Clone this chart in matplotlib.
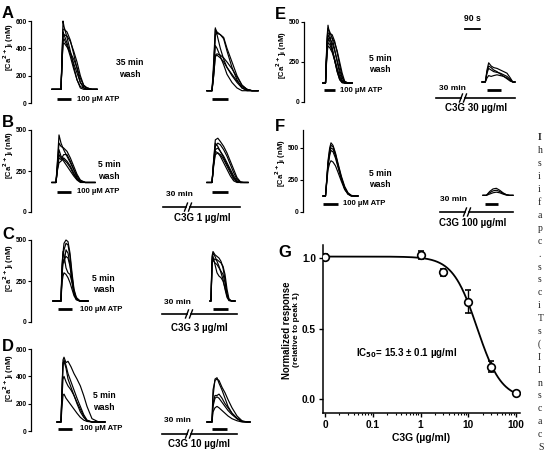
import numpy as np
import matplotlib
matplotlib.use("Agg")
import matplotlib.pyplot as plt

plt.rcParams['font.family'] = ['Liberation Sans', 'DejaVu Sans']
plt.rcParams['font.weight'] = 'bold'
plt.rcParams['mathtext.default'] = 'bf'

# ---------------- data: Ca2+ traces (time in s, [Ca2+]i in nM) ----------------
a_ctrl_t = [0, 54, 60, 66, 72, 90, 110, 130, 150, 170, 190, 210, 240, 270]
a_ctrl = [
    [100, 100, 300, 600, 560, 480, 380, 270, 170, 110, 100, 100, 100, 100],
    [100, 100, 350, 540, 540, 520, 460, 360, 250, 150, 110, 100, 100, 100],
    [100, 100, 300, 480, 500, 490, 450, 380, 300, 200, 130, 110, 100, 100],
    [100, 100, 280, 450, 470, 420, 340, 250, 170, 120, 110, 100, 100, 100],
    [100, 100, 320, 520, 500, 440, 360, 290, 220, 150, 120, 110, 100, 100],
    [100, 100, 300, 430, 440, 410, 370, 320, 260, 180, 130, 110, 100, 100],
]
a_c3g_t = [0, 30, 40, 50, 60, 80, 100, 120, 150, 180, 210, 240, 270, 306]
a_c3g = [
    [90, 90, 250, 540, 520, 500, 480, 400, 300, 200, 130, 100, 90, 90],
    [90, 90, 250, 500, 510, 500, 470, 380, 260, 170, 110, 90, 90, 90],
    [90, 90, 200, 350, 360, 350, 330, 300, 250, 190, 130, 100, 90, 90],
    [90, 90, 220, 420, 400, 340, 280, 210, 150, 110, 90, 90, 90, 90],
    [90, 90, 300, 550, 500, 400, 320, 260, 200, 150, 110, 95, 90, 90],
    [90, 90, 200, 340, 350, 330, 300, 260, 210, 160, 120, 100, 90, 90],
]

b_ctrl_t = [0, 24, 32, 42, 54, 70, 90, 110, 130, 150, 170, 200, 230, 258]
b_ctrl = [
    [180, 180, 300, 470, 420, 380, 340, 300, 260, 220, 190, 180, 180, 180],
    [180, 180, 290, 420, 400, 390, 370, 330, 280, 230, 195, 180, 180, 180],
    [180, 180, 260, 330, 320, 350, 350, 310, 260, 210, 185, 180, 180, 180],
    [180, 180, 250, 300, 310, 330, 310, 280, 240, 200, 185, 180, 180, 180],
    [180, 180, 270, 380, 340, 320, 300, 270, 230, 200, 185, 180, 180, 180],
    [180, 180, 260, 350, 330, 310, 280, 250, 220, 195, 180, 180, 180, 180],
]
b_c3g_t = [0, 30, 40, 50, 65, 80, 100, 120, 140, 160, 180, 200, 220, 246]
b_c3g = [
    [180, 180, 320, 440, 450, 430, 400, 360, 310, 260, 210, 185, 180, 180],
    [180, 180, 300, 400, 420, 410, 380, 340, 290, 240, 200, 180, 180, 180],
    [180, 180, 300, 380, 390, 370, 340, 300, 260, 220, 190, 180, 180, 180],
    [180, 180, 280, 350, 360, 350, 320, 280, 240, 200, 185, 180, 180, 180],
    [180, 180, 310, 420, 400, 370, 330, 290, 250, 210, 185, 180, 180, 180],
    [180, 180, 290, 370, 360, 340, 300, 260, 220, 190, 180, 180, 180, 180],
]

c_ctrl_t = [0, 48, 54, 60, 66, 78, 90, 102, 114, 126, 140, 160, 185, 210]
c_ctrl = [
    [128, 128, 350, 420, 480, 500, 490, 420, 300, 200, 150, 130, 128, 128],
    [128, 128, 300, 400, 440, 480, 470, 400, 280, 190, 145, 130, 128, 128],
    [128, 128, 280, 360, 380, 400, 390, 340, 250, 180, 140, 128, 128, 128],
    [128, 128, 240, 280, 300, 290, 270, 240, 200, 160, 135, 128, 128, 128],
    [128, 128, 320, 430, 410, 330, 300, 290, 240, 170, 140, 128, 128, 128],
    [128, 128, 300, 380, 360, 440, 420, 350, 260, 180, 140, 128, 128, 128],
]
c_c3g_t = [0, 6, 12, 18, 30, 42, 54, 66, 78, 90, 102, 114, 130, 150]
c_c3g = [
    [128, 128, 400, 430, 410, 400, 390, 370, 330, 260, 170, 135, 128, 128],
    [128, 128, 380, 420, 400, 370, 340, 300, 260, 200, 150, 130, 128, 128],
    [128, 128, 360, 390, 380, 380, 370, 360, 340, 290, 200, 140, 128, 128],
    [128, 128, 340, 400, 350, 300, 280, 270, 250, 210, 160, 135, 128, 128],
    [128, 128, 350, 380, 360, 350, 330, 310, 290, 240, 170, 135, 128, 128],
]

d_ctrl_t = [0, 24, 30, 36, 42, 54, 66, 84, 102, 120, 140, 160, 180, 210, 250, 288]
d_ctrl = [
    [66, 66, 300, 520, 540, 500, 510, 470, 420, 380, 330, 260, 180, 90, 66, 66],
    [66, 66, 300, 480, 520, 480, 420, 360, 300, 240, 180, 120, 80, 66, 66, 66],
    [66, 66, 250, 380, 400, 360, 330, 300, 260, 210, 160, 110, 75, 66, 66, 66],
    [66, 66, 180, 260, 270, 240, 220, 190, 160, 130, 100, 80, 70, 66, 66, 66],
    [66, 66, 280, 500, 510, 460, 380, 320, 260, 200, 140, 100, 75, 66, 66, 66],
]
d_c3g_t = [0, 30, 36, 48, 60, 72, 90, 108, 126, 150, 180, 210, 240, 258]
d_c3g = [
    [66, 66, 300, 370, 380, 370, 320, 280, 230, 170, 110, 75, 66, 66],
    [66, 66, 200, 260, 260, 270, 240, 200, 170, 130, 95, 70, 66, 66],
    [66, 66, 180, 240, 250, 240, 210, 180, 150, 120, 90, 70, 66, 66],
    [66, 66, 140, 170, 180, 170, 150, 130, 110, 90, 75, 66, 66, 66],
    [66, 66, 250, 380, 390, 350, 300, 240, 180, 130, 90, 70, 66, 66],
]

e_ctrl_t = [0, 15, 24, 30, 40, 55, 70, 85, 100, 115, 130, 150, 174]
e_ctrl = [
    [119, 119, 400, 480, 420, 340, 260, 190, 140, 120, 119, 119, 119],
    [119, 119, 380, 460, 440, 400, 330, 250, 180, 135, 120, 119, 119],
    [119, 119, 360, 430, 430, 420, 380, 310, 230, 160, 125, 119, 119],
    [119, 119, 340, 400, 380, 330, 260, 190, 140, 122, 119, 119, 119],
    [119, 119, 320, 370, 360, 320, 270, 210, 160, 130, 120, 119, 119],
    [119, 119, 300, 350, 340, 310, 260, 200, 150, 125, 119, 119, 119],
    [119, 119, 350, 420, 400, 370, 320, 260, 200, 150, 125, 119, 119],
    [119, 119, 330, 380, 400, 400, 370, 320, 250, 180, 130, 119, 119],
]
e_c3g_t = [0, 20, 30, 40, 55, 70, 90, 110, 130, 150, 170, 185, 198]
e_c3g = [
    [125, 125, 200, 245, 225, 215, 210, 200, 190, 180, 150, 125, 125],
    [125, 125, 180, 210, 200, 190, 185, 180, 170, 160, 140, 125, 125],
    [125, 125, 150, 165, 160, 165, 170, 165, 160, 150, 135, 125, 125],
    [125, 125, 190, 225, 215, 200, 190, 175, 160, 145, 130, 125, 125],
]

f_ctrl_t = [0, 15, 22, 30, 40, 48, 60, 75, 90, 110, 130, 150, 170, 190, 210]
f_ctrl = [
    [125, 125, 250, 400, 500, 540, 520, 460, 380, 280, 200, 150, 130, 125, 125],
    [125, 125, 240, 380, 480, 520, 510, 450, 370, 270, 190, 145, 128, 125, 125],
    [125, 125, 230, 360, 440, 480, 470, 420, 350, 260, 185, 140, 125, 125, 125],
    [125, 125, 220, 330, 380, 400, 390, 360, 310, 240, 175, 140, 125, 125, 125],
    [125, 125, 240, 370, 460, 500, 490, 440, 360, 260, 180, 140, 125, 125, 125],
]
f_c3g_t = [0, 20, 40, 60, 80, 100, 120, 140, 160, 180]
f_c3g = [
    [130, 130, 160, 180, 185, 170, 150, 135, 130, 130],
    [130, 130, 150, 165, 170, 160, 145, 135, 130, 130],
    [130, 130, 140, 150, 155, 150, 140, 132, 130, 130],
]

# concentration-response (G)
g_conc = [0, 1, 3, 10, 30, 100]
g_resp = [1.01, 1.02, 0.90, 0.69, 0.23, 0.04]
g_err = [0.015, 0.03, 0.025, 0.08, 0.04, 0.01]
g_top, g_bottom, g_ic50, g_hill = 1.01, 0.0, 15.3, 1.7
g_ticks = [0.01, 0.1, 1, 10, 100]
g_ticklabels = ['0', '0.1', '1', '10', '100']

caption_chars = ['I', 'h', 's', 'i', 'i', 'f', 'a', 'p', 'c', '.', 's', 's', 'c',
                 'i', 'T', 's', '(', 'I', 'I', 'n', 's', 'c', 'a', 'c', 'S']

# ---------------- layout ----------------
W, H = 544, 455
fig = plt.figure(figsize=(5.44, 4.55), dpi=100)


def px_axes(x0, ytop, x1, ybot):
    return fig.add_axes([x0 / W, 1 - ybot / H, (x1 - x0) / W, (ybot - ytop) / H])


rows = [
    dict(letter='A', rect=(31, 21, 262, 103), ymax=600, yticks=[0, 200, 400, 600],
         ctrl=(a_ctrl_t, a_ctrl, 126), c3g=(a_c3g_t, a_c3g, 1056),
         atp=[(156, 240), (1086, 1182)], atp_v=29, atp_lab=276,
         wash=(594, 252, '35 min\nwash'), line=None, lab_xy=(2, 6), ylab_y=47),
    dict(letter='B', rect=(31, 130, 262, 212), ymax=500, yticks=[0, 250, 500],
         ctrl=(b_ctrl_t, b_ctrl, 126), c3g=(b_c3g_t, b_c3g, 1056),
         atp=[(156, 240), (1086, 1182)], atp_v=125, atp_lab=276,
         wash=(468, 253, '5 min\nwash'),
         line=dict(v=30, t=(792, 1254), brk=942, min_xy=(888, 104),
                   conc=(1030, -37, 'C3G 1 µg/ml')), lab_xy=(2, 115), ylab_y=155),
    dict(letter='C', rect=(31, 240, 262, 322), ymax=500, yticks=[0, 250, 500],
         ctrl=(c_ctrl_t, c_ctrl, 132), c3g=(c_c3g_t, c_c3g, 1074),
         atp=[(162, 246), (1092, 1182)], atp_v=79, atp_lab=294,
         wash=(435, 232, '5 min\nwash'),
         line=dict(v=49, t=(786, 1236), brk=948, min_xy=(879, 116),
                   conc=(1008, -37, 'C3G 3 µg/ml')), lab_xy=(2, 227), ylab_y=268),
    dict(letter='D', rect=(31, 349, 262, 431), ymax=600, yticks=[0, 200, 400, 600],
         ctrl=(d_ctrl_t, d_ctrl, 156), c3g=(d_c3g_t, d_c3g, 1056),
         atp=[(162, 246), (1086, 1176)], atp_v=15, atp_lab=294,
         wash=(438, 216, '5 min\nwash'),
         line=dict(v=-22, t=(786, 1236), brk=948, min_xy=(876, 80),
                   conc=(1008, -93, 'C3G 10 µg/ml')), lab_xy=(2, 339), ylab_y=378),
    dict(letter='E', rect=(304, 22, 520, 102), ymax=500, yticks=[0, 250, 500],
         ctrl=(e_ctrl_t, e_ctrl, 114), c3g=(e_c3g_t, e_c3g, 1068),
         atp=[(120, 186), (1098, 1182)], atp_v=75, atp_lab=216,
         wash=(456, 237, '5 min\nwash'),
         line=dict(v=25, t=(792, 1266), brk=954, min_xy=(888, 87),
                   conc=(1032, -37, 'C3G 30 µg/ml')), lab_xy=(275, 7), ylab_y=55,
         scale=dict(t=(966, 1056), v=456, text_v=519)),
    dict(letter='F', rect=(303, 130, 520, 212), ymax=640, yticks=[0, 250, 500],
         ctrl=(f_ctrl_t, f_ctrl, 120), c3g=(f_c3g_t, f_c3g, 1080),
         atp=[(120, 210), (1092, 1170)], atp_v=66, atp_lab=240,
         wash=(462, 258, '5 min\nwash'),
         line=dict(v=0, t=(822, 1260), brk=984, min_xy=(900, 101),
                   conc=(1020, -86, 'C3G 100 µg/ml')), lab_xy=(275, 119), ylab_y=163),
]

SEC_PER_PX = 6.0

for r in rows:
    x0, ytop, x1, ybot = r['rect']
    ax = px_axes(x0, ytop, x1, ybot)
    vpp = r['ymax'] / (ybot - ytop)  # nM per pixel
    ax.set_xlim(0, (x1 - x0) * SEC_PER_PX)
    ax.set_ylim(0, r['ymax'])
    for s in ['top', 'right', 'bottom']:
        ax.spines[s].set_visible(False)
    ax.spines['left'].set_linewidth(0.9)
    ax.set_xticks([])
    ax.set_yticks(r['yticks'])
    ax.tick_params(axis='y', direction='out', length=2, width=0.8, pad=1, labelsize=4.8)
    fig.text((x0 - 22) / W, 1 - r['ylab_y'] / H, r'[Ca$^{2+}$]$_{i}$ (nM)',
             rotation=90, fontsize=5.5, fontweight='bold', ha='center', va='center')

    for tt, traces, t0 in (r['ctrl'], r['c3g']):
        for tr in traces:
            ax.plot(np.array(tt) + t0, tr, color='black', lw=0.85, clip_on=False)

    for (ta, tb) in r['atp']:
        ax.plot([ta, tb], [r['atp_v']] * 2, color='black', lw=2.0,
                solid_capstyle='butt', clip_on=False)
    ax.text(r['atp_lab'], r['atp_v'], '100 µM ATP', fontsize=5.6, va='center',
            ha='left')
    wx, wy, wt = r['wash']
    ax.text(wx, wy, wt, fontsize=6.2, ha='center', va='center', linespacing=1.35)

    ln = r['line']
    if ln is not None:
        gap = 2 * SEC_PER_PX
        ax.plot([ln['t'][0], ln['brk'] - gap], [ln['v']] * 2, color='black',
                lw=1.2, clip_on=False)
        ax.plot([ln['brk'] + gap, ln['t'][1]], [ln['v']] * 2, color='black',
                lw=1.2, clip_on=False)
        for bx in (ln['brk'] - gap, ln['brk'] + gap):
            ax.plot([bx - 1.5 * SEC_PER_PX, bx + 1.5 * SEC_PER_PX],
                    [ln['v'] - 4 * vpp, ln['v'] + 4 * vpp], color='black',
                    lw=1.0, clip_on=False)
        ax.text(ln['min_xy'][0], ln['min_xy'][1], '30 min', fontsize=6,
                ha='center', va='center')
        cx, cy, ct = ln['conc']
        ax.text(cx, cy, ct, fontsize=7, ha='center', va='center')

    if 'scale' in r:
        sc = r['scale']
        ax.plot(sc['t'], [sc['v']] * 2, color='black', lw=1.3, clip_on=False)
        ax.text(np.mean(sc['t']), sc['text_v'], '90 s', fontsize=6.2,
                ha='center', va='center')

    fig.text(r['lab_xy'][0] / W, 1 - r['lab_xy'][1] / H, r['letter'],
             fontsize=12, fontweight='bold', ha='left', va='top')

# ---------------- panel G ----------------
axg = px_axes(323, 245, 520, 413)
axg.set_xscale('log')
axg.set_xlim(0.0091, 121)
axg.set_ylim(-0.099, 1.092)
x_plot = [c if c > 0 else 0.01 for c in g_conc]
xc = np.logspace(-2, 2, 300)
yc = g_bottom + (g_top - g_bottom) / (1 + (xc / g_ic50) ** g_hill)
axg.plot(xc, yc, color='black', lw=1.3)
axg.errorbar(x_plot, g_resp, yerr=g_err, fmt='o', mfc='white', mec='black',
             mew=1.2, ms=5.5, ecolor='black', elinewidth=1.0, capsize=2.2,
             capthick=1.0, zorder=3)
for s in ['top', 'right']:
    axg.spines[s].set_visible(False)
for s in ['left', 'bottom']:
    axg.spines[s].set_linewidth(1.1)
axg.set_xticks(g_ticks)
axg.set_xticklabels(g_ticklabels)
axg.set_yticks([0.0, 0.5, 1.0])
axg.set_yticklabels(['0.0', '0.5', '1.0'])
axg.tick_params(which='major', direction='out', length=3, width=1.0,
                labelsize=7.3, pad=2)
axg.tick_params(which='minor', direction='out', length=1.6, width=0.8)
axg.set_xlabel('C3G (µg/ml)', fontsize=7.5, fontweight='bold', labelpad=2)
axg.text(0.165, 0.36, r'IC$_{50}$= 15.3 ± 0.1 µg/ml', transform=axg.transAxes,
         fontsize=7, ha='left', va='center')
fig.text(287 / W, 1 - 330 / H, 'Normalized response', rotation=90,
         fontsize=6.9, fontweight='bold', ha='center', va='center')
fig.text(297 / W, 1 - 330 / H, '(relative to peak 1)', rotation=90,
         fontsize=6.0, fontweight='bold', ha='center', va='center')
fig.text(278 / W, 1 - 245 / H, 'G', fontsize=12, fontweight='bold',
         ha='left', va='top')

# cropped caption text at the right edge
for i, ch in enumerate(caption_chars):
    fig.text(538 / W, 1 - (138 + i * 12.9) / H, ch, fontsize=7,
             family='Liberation Serif', fontweight='bold' if i == 0 else 'normal',
             color='#222222', ha='left', va='center')

fig.savefig('out.png', dpi=100, facecolor='white')
